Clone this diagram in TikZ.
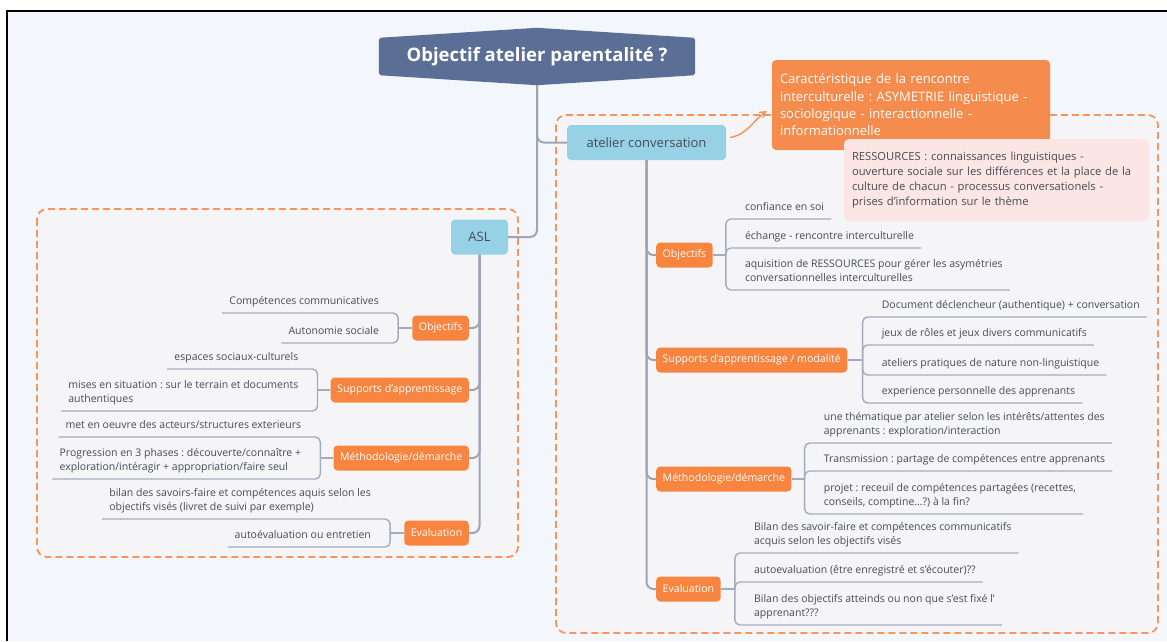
\documentclass[tikz,border=0pt]{standalone}
\usepackage{fontspec}
\setmainfont{Open Sans}
\frenchspacing
\usetikzlibrary{arrows,positioning,backgrounds}
\definecolor{bgblue}{HTML}{F3F7FB}
\definecolor{zonegray}{HTML}{F5F5F8}
\definecolor{zoneorange}{HTML}{F7955C}
\definecolor{titleblue}{HTML}{5B6F96}
\definecolor{topicblue}{HTML}{97D1E6}
\definecolor{suborange}{HTML}{F7843F}
\definecolor{cardorange}{HTML}{F58B4C}
\definecolor{notepink}{HTML}{FCE5E5}
\definecolor{linegray}{HTML}{9DA5B5}
\definecolor{twiggray}{HTML}{A3ACBD}
\definecolor{textgray}{HTML}{474B52}
\tikzset{
    topic/.style={rounded corners=4pt, fill=topicblue, text=textgray, font=\fontsize{13}{15}\selectfont, minimum height=35pt},
    sub/.style={rounded corners=4pt, fill=suborange, text=white, font=\fontsize{10.6}{12}\selectfont, minimum height=25pt, inner xsep=6.5pt},
    leaf/.style={align=left, inner xsep=7pt, inner ysep=6pt, text depth=2.5pt, text=textgray, font=\fontsize{10.5}{13.5}\selectfont},
    leafL/.style={leaf, anchor=south east, xshift=-12pt},
    leafR/.style={leaf, anchor=south west, xshift=12pt},
    branch/.style={draw=linegray, line width=2pt, rounded corners=7pt},
    twig/.style={draw=twiggray, line width=1.4pt, rounded corners=5pt},
    zone/.style={draw=zoneorange, fill=zonegray, line width=1.8pt, dash pattern=on 7pt off 4pt, rounded corners=10pt}
}
\begin{document}
\begin{tikzpicture}
  [
    x = 1pt,
    y = -1pt,
  ]
  \useasboundingbox (0,0) rectangle (1167,641);

  \node[font=\fontsize{18.5}{21}\selectfont\bfseries, text=white, minimum width=316pt, minimum height=37pt] (title) at (537,56.5) {Objectif atelier parentalité ?};
  \coordinate (titletip) at ([yshift=-10pt]title.south);

  \node[topic, minimum width=57pt] (asl) at (479.5,237) {ASL};
  \node[topic, minimum width=159pt] (ac) at (646.5,142.5) {atelier conversation};

  \node[rounded corners=4pt, fill=cardorange, text=white, align=left, text width=262pt, inner xsep=8pt, minimum height=90pt, font=\fontsize{13}{17.3}\selectfont] (card) at (911,105)
    {Caractéristique de la rencontre\\interculturelle : ASYMETRIE linguistique -\\sociologique - interactionnelle -\\informationnelle};
  \node[rounded corners=5pt, fill=notepink, text=textgray, align=left, text width=289pt, inner xsep=8pt, minimum height=82pt, font=\fontsize{11.2}{15}\selectfont] (res) at (996.5,180)
    {RESSOURCES : connaissances linguistiques -\\ouverture sociale sur les différences et la place de la\\culture de chacun - processus conversationels -\\prises d'information sur le thème};

  \node[sub, anchor=east] (lobj) at (469,328) {Objectifs};
  \node[sub, anchor=east] (lsup) at (469,390) {Supports d'apprentissage};
  \node[sub, anchor=east] (lmet) at (469,458) {Méthodologie/démarche};
  \node[sub, anchor=east] (leva) at (469,533) {Evaluation};
  \node[sub, anchor=west] (robj) at (656,255) {Objectifs};
  \node[sub, anchor=west] (rsup) at (656,360) {Supports d'apprentissage / modalité};
  \node[sub, anchor=west] (rmet) at (656,479) {Méthodologie/démarche};
  \node[sub, anchor=west] (reva) at (656,589) {Evaluation};

  \coordinate (lobj-b) at ([xshift=-14pt]lobj.west);
  \coordinate (lsup-b) at ([xshift=-13pt]lsup.west);
  \coordinate (lmet-b) at ([xshift=-13pt]lmet.west);
  \coordinate (leva-b) at ([xshift=-14pt]leva.west);
  \coordinate (robj-b) at ([xshift=13pt]robj.east);
  \coordinate (rsup-b) at ([xshift=15pt]rsup.east);
  \coordinate (rmet-b) at ([xshift=13pt]rmet.east);
  \coordinate (reva-b) at ([xshift=14pt]reva.east);

  \node[leafL] (lobj-1) at (lobj-b |- 0,313) {Compétences communicatives};
  \node[leafL] (lobj-2) at (lobj-b |- 0,343) {Autonomie sociale};
  \node[leafL] (lsup-1) at (lsup-b |- 0,369) {espaces sociaux-culturels};
  \node[leafL] (lsup-2) at (lsup-b |- 0,411) {mises en situation : sur le terrain et documents\\authentiques};
  \node[leafL] (lmet-1) at (lmet-b |- 0,437) {met en oeuvre des acteurs/structures exterieurs};
  \node[leafL] (lmet-2) at (lmet-b |- 0,479) {Progression en 3 phases : découverte/connaître +\\exploration/intéragir + appropriation/faire seul};
  \node[leafL] (leva-1) at (leva-b |- 0,519) {bilan des savoirs-faire et compétences aquis selon les\\objectifs visés (livret de suivi par exemple)};
  \node[leafL] (leva-2) at (leva-b |- 0,547) {autoévaluation ou entretien};

  \node[leafR] (robj-1) at (robj-b |- 0,219) {confiance en soi};
  \node[leafR] (robj-2) at (robj-b |- 0,248) {échange - rencontre interculturelle};
  \node[leafR] (robj-3) at (robj-b |- 0,290) {aquisition de RESSOURCES pour gérer les asymétries\\conversationnelles interculturelles};
  \node[leafR] (rsup-1) at (rsup-b |- 0,317) {Document déclencheur (authentique) + conversation};
  \node[leafR] (rsup-2) at (rsup-b |- 0,345) {jeux de rôles et jeux divers communicatifs};
  \node[leafR] (rsup-3) at (rsup-b |- 0,375) {ateliers pratiques de nature non-linguistique};
  \node[leafR] (rsup-4) at (rsup-b |- 0,403) {experience personnelle des apprenants};
  \node[leafR] (rmet-1) at (rmet-b |- 0,443) {une thématique par atelier selon les intérêts/attentes des\\apprenants : exploration/interaction};
  \node[leafR] (rmet-2) at (rmet-b |- 0,471) {Transmission : partage de compétences entre apprenants};
  \node[leafR] (rmet-3) at (rmet-b |- 0,514) {projet : receuil de compétences partagées (recettes,\\conseils, comptine…?) à la fin?};
  \node[leafR] (reva-1) at (reva-b |- 0,553) {Bilan des savoir-faire et compétences communicatifs\\acquis selon les objectifs visés};
  \node[leafR] (reva-2) at (reva-b |- 0,582) {autoevaluation (être enregistré et s'écouter)??};
  \node[leafR] (reva-3) at (reva-b |- 0,625) {Bilan des objectifs atteinds ou non que s'est fixé l'\\apprenant???};

  \begin{scope}[on background layer]
    \fill[bgblue] (7,11) rectangle (1167,641);
    \draw[black, line width=1.5pt] (7,641) -- (7,11) -- (1167,11);
    \path[zone] (37,209) rectangle (518,557);
    \path[zone] (556,115) rectangle (1158,633);
    \fill[titleblue, rounded corners=2pt] (title.north west) -- ([yshift=10pt]title.north) -- (title.north east)
      -- (title.south east) -- (titletip) -- (title.south west) -- cycle;
  \end{scope}

  \draw[branch] (titletip) |- (asl.east);
  \draw[branch] (titletip) |- (ac.west);
  \draw[zoneorange, line width=1.5pt, -angle 60] ([xshift=4pt,yshift=5pt]ac.east) to[out=10, in=215] ([xshift=-5pt,yshift=-6pt]card.west);

  \draw[branch] (asl.south) |- (lobj.east);
  \draw[branch] (asl.south) |- (lsup.east);
  \draw[branch] (asl.south) |- (lmet.east);
  \draw[branch] (asl.south) |- (leva.east);
  \draw[branch] (ac.south) |- (robj.west);
  \draw[branch] (ac.south) |- (rsup.west);
  \draw[branch] (ac.south) |- (rmet.west);
  \draw[branch] (ac.south) |- (reva.west);

  \draw[twig] (lobj.west) -- (lobj-b);
  \draw[twig] (lobj-b) |- (lobj-1.south west);
  \draw[twig] (lobj-b) |- (lobj-2.south west);
  \draw[twig] (lsup.west) -- (lsup-b);
  \draw[twig] (lsup-b) |- (lsup-1.south west);
  \draw[twig] (lsup-b) |- (lsup-2.south west);
  \draw[twig] (lmet.west) -- (lmet-b);
  \draw[twig] (lmet-b) |- (lmet-1.south west);
  \draw[twig] (lmet-b) |- (lmet-2.south west);
  \draw[twig] (leva.west) -- (leva-b);
  \draw[twig] (leva-b) |- (leva-1.south west);
  \draw[twig] (leva-b) |- (leva-2.south west);

  \draw[twig] (robj.east) -- (robj-b);
  \draw[twig] (robj-b) |- (robj-1.south east);
  \draw[twig] (robj-b) |- (robj-2.south east);
  \draw[twig] (robj-b) |- (robj-3.south east);
  \draw[twig] (rsup.east) -- (rsup-b);
  \draw[twig] (rsup-b) |- (rsup-1.south east);
  \draw[twig] (rsup-b) |- (rsup-2.south east);
  \draw[twig] (rsup-b) |- (rsup-3.south east);
  \draw[twig] (rsup-b) |- (rsup-4.south east);
  \draw[twig] (rmet.east) -- (rmet-b);
  \draw[twig] (rmet-b) |- (rmet-1.south east);
  \draw[twig] (rmet-b) |- (rmet-2.south east);
  \draw[twig] (rmet-b) |- (rmet-3.south east);
  \draw[twig] (reva.east) -- (reva-b);
  \draw[twig] (reva-b) |- (reva-1.south east);
  \draw[twig] (reva-b) |- (reva-2.south east);
  \draw[twig] (reva-b) |- (reva-3.south east);
\end{tikzpicture}
\end{document}
